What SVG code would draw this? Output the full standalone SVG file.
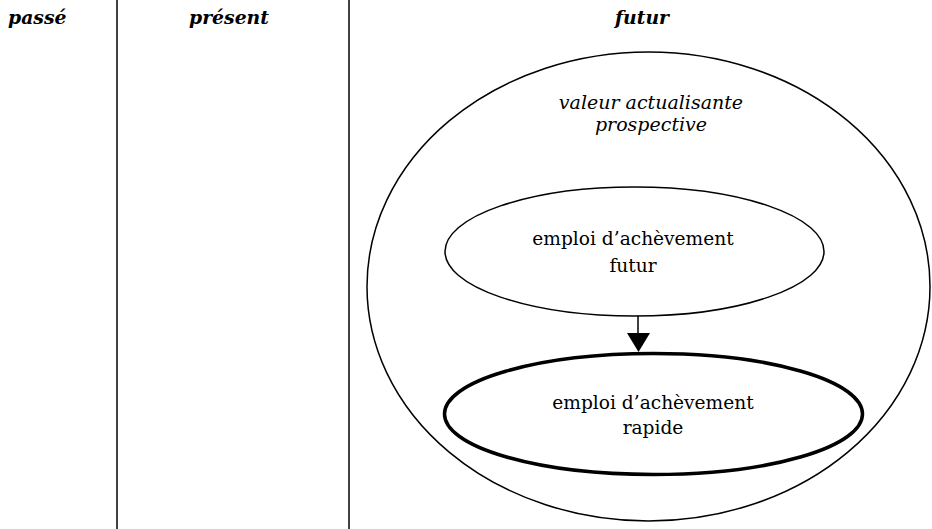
<svg xmlns="http://www.w3.org/2000/svg" width="932" height="529" viewBox="0 0 932 529">
  <style>
    .hdr { font-family: "DejaVu Serif", "Liberation Serif", serif; font-weight: bold; font-style: italic; font-size: 18.8px; fill: #000; }
    .lbl { font-family: "DejaVu Serif", "Liberation Serif", serif; font-size: 18.6px; fill: #000; text-anchor: middle; }
    .it { font-style: italic; font-size: 19px; }
    .col { stroke: #000; stroke-width: 1.5; }
    .shape { fill: #fff; stroke: #000; stroke-width: 1.5; }
    .thick { stroke-width: 3.5; }
  </style>
  <rect width="932" height="529" fill="#fff"/>

  <!-- timeline columns -->
  <g id="columns">
    <line class="col" x1="117" y1="0" x2="117" y2="529"/>
    <line class="col" x1="349" y1="0" x2="349" y2="529"/>
    <text class="hdr" x="8" y="24">passé</text>
    <text class="hdr" x="229" y="24" text-anchor="middle">présent</text>
    <text class="hdr" x="642" y="24" text-anchor="middle">futur</text>
  </g>

  <!-- outer field -->
  <g id="valeur">
    <ellipse class="shape" cx="648.5" cy="286.5" rx="281.5" ry="234.5"/>
    <text class="lbl it" x="651" y="109">valeur actualisante</text>
    <text class="lbl it" x="651" y="131">prospective</text>
  </g>

  <g id="futur">
    <ellipse class="shape" cx="634.5" cy="251.5" rx="189.5" ry="64.5"/>
    <text class="lbl" x="633" y="245">emploi d’achèvement</text>
    <text class="lbl" x="633" y="272">futur</text>
  </g>

  <g id="rapide">
    <ellipse class="shape thick" cx="653.5" cy="414" rx="209" ry="60.5"/>
    <text class="lbl" x="653" y="409">emploi d’achèvement</text>
    <text class="lbl" x="653" y="434">rapide</text>
  </g>

  <g id="connectors">
    <line x1="638" y1="316" x2="638" y2="333" stroke="#000" stroke-width="1.5"/>
    <path d="M627,333 L650,333 L638.5,352 Z" fill="#000"/>
  </g>
</svg>
